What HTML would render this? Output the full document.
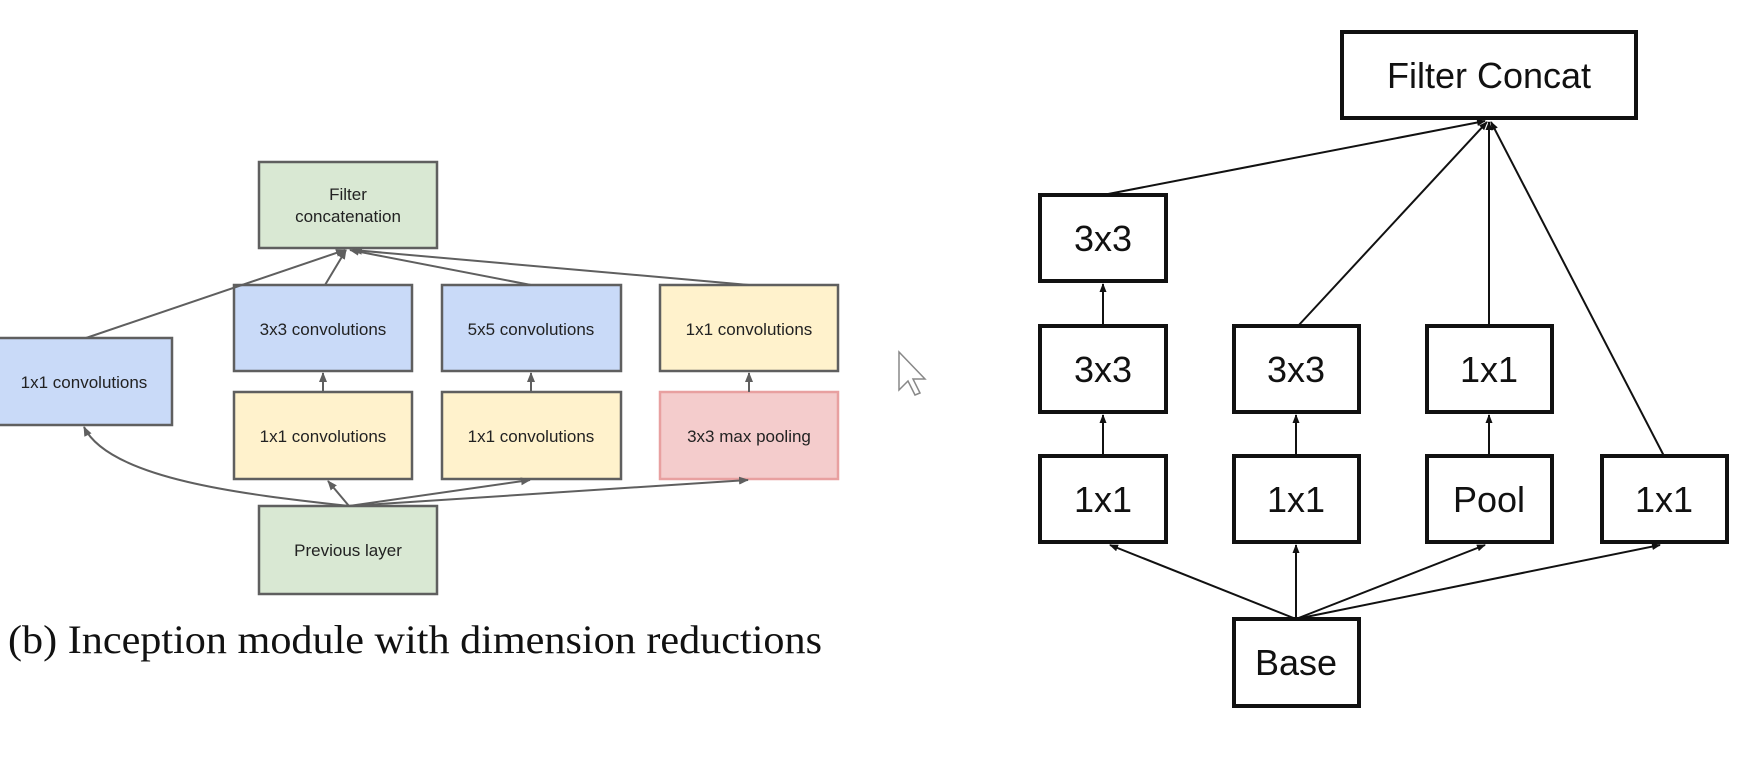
<!DOCTYPE html>
<html><head><meta charset="utf-8"><style>
html,body{margin:0;padding:0;background:#fff;}
svg{display:block;}
</style></head><body>
<svg width="1738" height="783" viewBox="0 0 1738 783" xmlns="http://www.w3.org/2000/svg">
<defs>
<marker id="ag" markerWidth="10" markerHeight="10" refX="9" refY="5" orient="auto" markerUnits="userSpaceOnUse"><path d="M0,1 L10,5 L0,9 z" fill="#5f5f5f"/></marker>
<marker id="ab" markerWidth="9" markerHeight="9" refX="8" refY="4.5" orient="auto" markerUnits="userSpaceOnUse"><path d="M0,1 L9,4.5 L0,8 z" fill="#111"/></marker>
</defs>
<g font-family="Liberation Sans, sans-serif" font-size="17" fill="#222" text-anchor="middle">
<g stroke="#5f5f5f" stroke-width="2.5">
<rect x="259" y="162" width="178" height="86" fill="#d9e8d3"/>
<rect x="-5" y="338" width="177" height="87" fill="#c9daf8"/>
<rect x="234" y="285" width="178" height="86" fill="#c9daf8"/>
<rect x="442" y="285" width="179" height="86" fill="#c9daf8"/>
<rect x="660" y="285" width="178" height="86" fill="#fff2cc"/>
<rect x="234" y="392" width="178" height="87" fill="#fff2cc"/>
<rect x="442" y="392" width="179" height="87" fill="#fff2cc"/>
<rect x="660" y="392" width="178" height="87" fill="#f4cccc" stroke="#e8a0a0"/>
<rect x="259" y="506" width="178" height="88" fill="#d9e8d3"/>
</g>
<g stroke="#5f5f5f" stroke-width="2" fill="none" marker-end="url(#ag)">
<line x1="86" y1="338" x2="345" y2="250"/>
<line x1="325" y1="285" x2="346" y2="250"/>
<line x1="531" y1="285" x2="350" y2="250"/>
<line x1="749" y1="285" x2="353" y2="250"/>
<line x1="323" y1="392" x2="323" y2="373"/>
<line x1="531" y1="392" x2="531" y2="373"/>
<line x1="749" y1="392" x2="749" y2="373"/>
<path d="M349,506 C250,495 110,480 84,427"/>
<line x1="349" y1="506" x2="328" y2="481"/>
<line x1="349" y1="506" x2="530" y2="480"/>
<line x1="349" y1="506" x2="748" y2="480"/>
</g>
<text x="348" y="200">Filter</text>
<text x="348" y="222">concatenation</text>
<text x="84" y="388">1x1 convolutions</text>
<text x="323" y="335">3x3 convolutions</text>
<text x="531" y="335">5x5 convolutions</text>
<text x="749" y="335">1x1 convolutions</text>
<text x="323" y="442">1x1 convolutions</text>
<text x="531" y="442">1x1 convolutions</text>
<text x="749" y="442">3x3 max pooling</text>
<text x="348" y="556">Previous layer</text>
</g>
<text x="8" y="653" font-family="Liberation Serif, serif" font-size="40" fill="#111" textLength="814" lengthAdjust="spacingAndGlyphs">(b) Inception module with dimension reductions</text>
<path d="M899,352 L899,390 L908,381 L915,395 L920,393 L913,379 L925,379 Z" fill="#fff" stroke="#888" stroke-width="1.5"/>
<g font-family="Liberation Sans, sans-serif" font-size="36" fill="#111" text-anchor="middle">
<g stroke="#111" stroke-width="4" fill="#fff">
<rect x="1342" y="32" width="294" height="86"/>
<rect x="1040" y="195" width="126" height="86"/>
<rect x="1040" y="326" width="126" height="86"/>
<rect x="1234" y="326" width="125" height="86"/>
<rect x="1427" y="326" width="125" height="86"/>
<rect x="1040" y="456" width="126" height="86"/>
<rect x="1234" y="456" width="125" height="86"/>
<rect x="1427" y="456" width="125" height="86"/>
<rect x="1602" y="456" width="125" height="86"/>
<rect x="1234" y="619" width="125" height="87"/>
</g>
<g stroke="#111" stroke-width="2" fill="none" marker-end="url(#ab)">
<line x1="1103" y1="195" x2="1485" y2="121"/>
<line x1="1298" y1="326" x2="1487" y2="122"/>
<line x1="1489" y1="326" x2="1489" y2="122"/>
<line x1="1664" y1="456" x2="1491" y2="122"/>
<line x1="1103" y1="326" x2="1103" y2="284"/>
<line x1="1103" y1="456" x2="1103" y2="415"/>
<line x1="1296" y1="456" x2="1296" y2="415"/>
<line x1="1489" y1="456" x2="1489" y2="415"/>
<line x1="1296" y1="619" x2="1110" y2="545"/>
<line x1="1296" y1="619" x2="1296" y2="545"/>
<line x1="1296" y1="619" x2="1485" y2="545"/>
<line x1="1296" y1="619" x2="1660" y2="545"/>
</g>
<text x="1489" y="88">Filter Concat</text>
<text x="1103" y="251">3x3</text>
<text x="1103" y="382">3x3</text>
<text x="1296" y="382">3x3</text>
<text x="1489" y="382">1x1</text>
<text x="1103" y="512">1x1</text>
<text x="1296" y="512">1x1</text>
<text x="1489" y="512">Pool</text>
<text x="1664" y="512">1x1</text>
<text x="1296" y="675">Base</text>
</g>
</svg>
</body></html>
